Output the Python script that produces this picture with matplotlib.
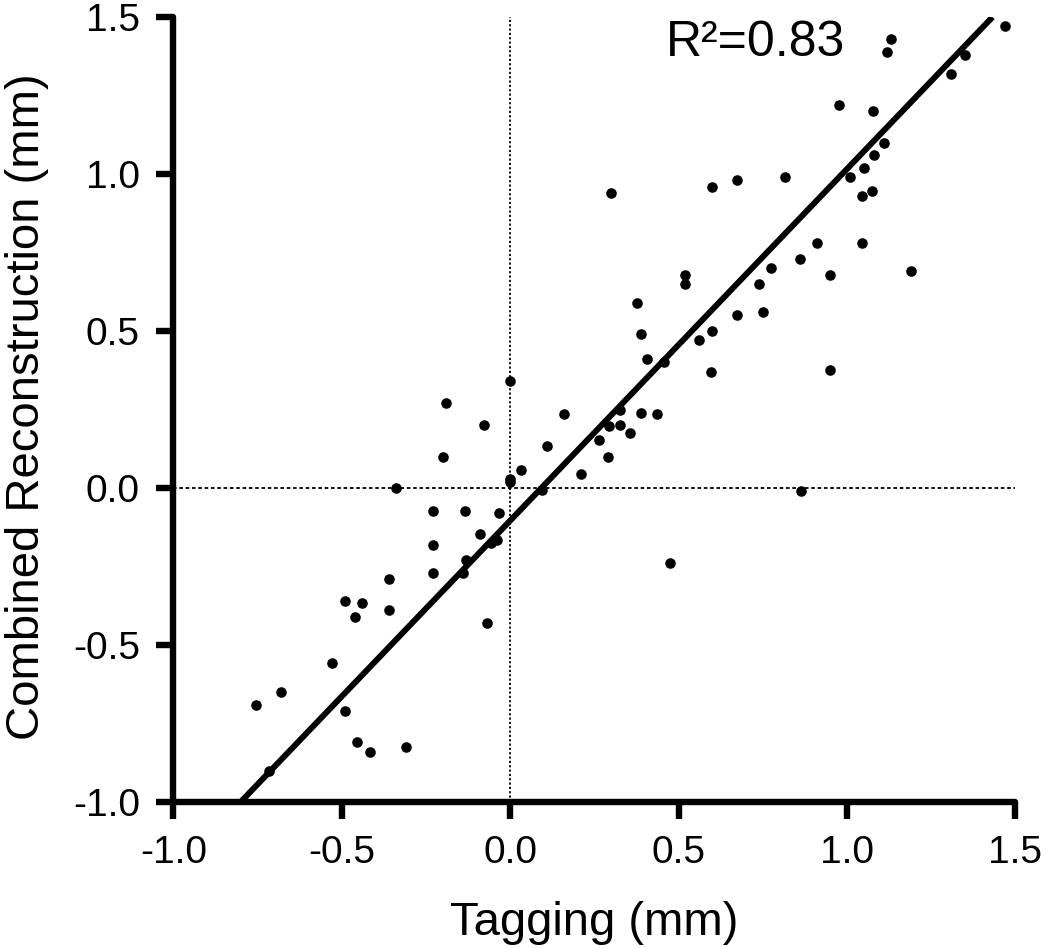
import numpy as np
import matplotlib
matplotlib.use("Agg")
import matplotlib.pyplot as plt

plt.rcParams['font.family'] = ['Liberation Sans', 'DejaVu Sans']

# data (mm)
tagging = [1.47, 1.13, 1.12, 1.35, 1.31, 0.976, 1.077, 1.11, 1.08, 1.05, 1.01,
           1.074, 1.045, 0.30, 0.60, 0.674, 0.816, 0.91, 1.045, 0.86, 0.775,
           0.95, 1.19, 0.74, 0.52, 0.52, 0.376, 0.674, 0.75, 0.39, 0.60, 0.56,
           0.406, 0.457, 0.596, 0.95, 0.39, 0.437, 0.326, 0.16, -0.19, -0.077,
           0.11, -0.20, 0.264, 0.29, 0.033, 0.0, 0.0, 0.21, 0.095, -0.34,
           -0.23, -0.134, -0.033, -0.09, -0.04, -0.057, -0.23, -0.13, -0.23,
           -0.14, -0.36, -0.49, -0.44, -0.46, -0.36, -0.07, -0.53, -0.68,
           -0.755, -0.49, -0.455, -0.415, -0.31, -0.715, 0.864, 0.475, 0.326,
           0.356, 0.294, 0.0]
combined = [1.47, 1.43, 1.39, 1.38, 1.32, 1.22, 1.20, 1.10, 1.06, 1.02, 0.99,
            0.946, 0.93, 0.94, 0.96, 0.98, 0.99, 0.78, 0.78, 0.73, 0.70,
            0.68, 0.69, 0.65, 0.68, 0.65, 0.59, 0.55, 0.56, 0.49, 0.50, 0.47,
            0.41, 0.40, 0.37, 0.376, 0.24, 0.235, 0.25, 0.235, 0.27, 0.20,
            0.134, 0.10, 0.153, 0.10, 0.057, 0.03, 0.02, 0.045, -0.006, 0.0,
            -0.073, -0.073, -0.08, -0.147, -0.166, -0.175, -0.18, -0.23, -0.27,
            -0.27, -0.29, -0.36, -0.366, -0.41, -0.39, -0.43, -0.557, -0.65,
            -0.69, -0.71, -0.81, -0.84, -0.825, -0.90, -0.01, -0.24, 0.20,
            0.175, 0.197, 0.34]

slope = 1.12
intercept = -0.104
r2_text = "R²=0.83"

xticks = [-1.0, -0.5, 0.0, 0.5, 1.0, 1.5]
yticks = [-1.0, -0.5, 0.0, 0.5, 1.0, 1.5]

fig = plt.figure(figsize=(10.5, 9.48), dpi=100)
ax = fig.add_axes([0.165, 0.154, 0.802, 0.828])

ax.set_xlim(-1.0, 1.5)
ax.set_ylim(-1.0, 1.5)

# reference lines through zero
ax.plot([0, 0], [-1.0, 1.5], color='black', lw=1.3, ls=(0, (1.2, 1.2)), zorder=1)
ax.plot([-1.0, 1.5], [0, 0], color='black', lw=1.3, ls=(0, (2, 1.5)), zorder=1)

# regression line, clipped to the box
x0 = (-1.0 - intercept) / slope
x1 = (1.5 - intercept) / slope
xl = np.array([x0, x1])
ax.plot(xl, slope * xl + intercept, color='black', lw=4.3, zorder=2,
        solid_capstyle='butt')

ax.scatter(tagging, combined, s=58, color='black', zorder=3, clip_on=False,
           linewidths=0)

ax.text(0.462, 1.376, r2_text, fontsize=36, va='baseline', ha='left')

for side in ['top', 'right']:
    ax.spines[side].set_visible(False)
for side in ['left', 'bottom']:
    ax.spines[side].set_linewidth(4.6)
    ax.spines[side].set_capstyle('round')

ax.set_xticks(xticks)
ax.set_yticks(yticks)
ax.set_xticklabels([f"{t:.1f}" for t in xticks])
ax.set_yticklabels([f"{t:.1f}" for t in yticks])
ax.tick_params(direction='out', length=12, width=4.6, labelsize=28, pad=12)

ax.set_xlabel("Tagging (mm)", fontsize=34, va='baseline')
ax.set_ylabel("Combined Reconstruction (mm)", fontsize=34, va='baseline')
ax.xaxis.set_label_coords(0.5, -0.169)
ax.yaxis.set_label_coords(-0.160, 0.503)

fig.savefig("out.png", dpi=100)
